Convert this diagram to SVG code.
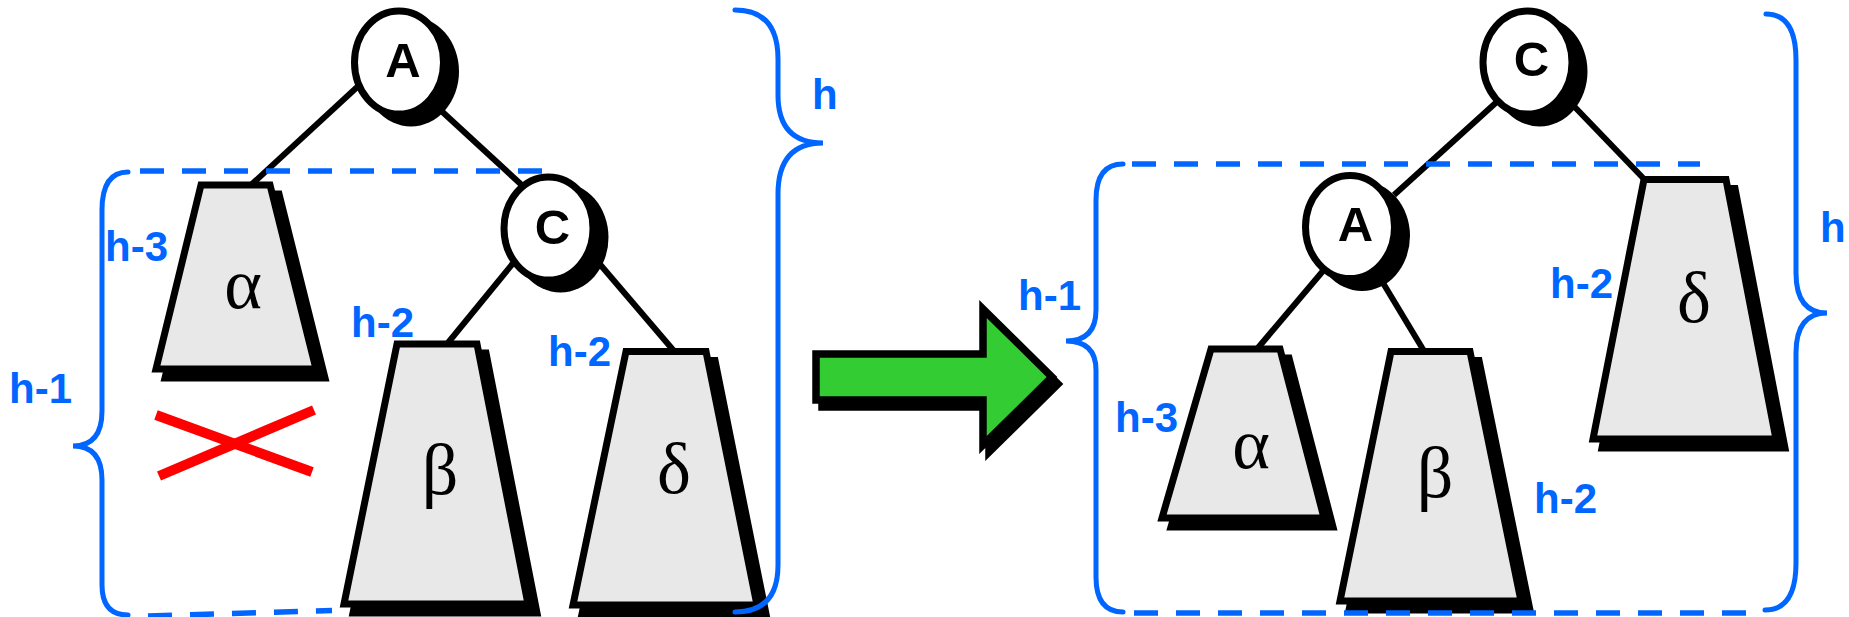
<svg xmlns="http://www.w3.org/2000/svg" width="1849" height="617" viewBox="0 0 1849 617">
<style>
.edge{stroke:#000;stroke-width:6;fill:none}
.circ{fill:#fff;stroke:#000;stroke-width:7}
.csh{fill:#000}
.tree{fill:#E8E8E8;stroke:#000;stroke-width:7;stroke-linejoin:miter}
.tsh{fill:#000;stroke:#000;stroke-width:7}
.nl{font-family:"Liberation Sans",Arial,sans-serif;font-weight:bold;font-size:49px;fill:#000;text-anchor:middle}
.gl{font-family:"Liberation Serif","Times New Roman",serif;font-size:72px;fill:#000;text-anchor:middle}
.hl{font-family:"Liberation Sans",Arial,sans-serif;font-weight:bold;font-size:42px;fill:#0066FF}
.brace{fill:none;stroke:#0066FF;stroke-width:5;stroke-linecap:round}
.dash{fill:none;stroke:#0066FF;stroke-width:5.5;stroke-dasharray:24 18}
.cross{stroke:#FF0000;stroke-width:10}
</style>
<rect width="1849" height="617" fill="#fff"/>
<g id="connectors">
<line class="edge" x1="361" y1="83.5" x2="251" y2="185"/>
<line class="edge" x1="436" y1="106" x2="525" y2="188"/>
<line class="edge" x1="514" y1="262" x2="447" y2="344"/>
<line class="edge" x1="598" y1="262" x2="674" y2="351"/>
<line class="edge" x1="1500" y1="99" x2="1394" y2="195"/>
<line class="edge" x1="1568" y1="100" x2="1645" y2="180"/>
<line class="edge" x1="1328" y1="265" x2="1257" y2="349"/>
<line class="edge" x1="1377" y1="273" x2="1424" y2="351"/>
</g>
<g id="left-alpha">
<polygon class="tsh" transform="translate(9,9)" points="201,185 270,185 316,369 156,369"/>
<polygon class="tree" points="201,185 270,185 316,369 156,369"/>
<text class="gl" x="243" y="308">α</text>
</g>
<g id="left-beta">
<polygon class="tsh" transform="translate(9,9)" points="397,344 477,344 528,604 344,604"/>
<polygon class="tree" points="397,344 477,344 528,604 344,604"/>
<text class="gl" x="440" y="494">β</text>
</g>
<g id="left-delta">
<polygon class="tsh" transform="translate(9,9)" points="626,351.5 706,351.5 757,605 573,605"/>
<polygon class="tree" points="626,351.5 706,351.5 757,605 573,605"/>
<text class="gl" x="674" y="493">δ</text>
</g>
<g id="left-A">
<ellipse class="csh" cx="411" cy="71.5" rx="48" ry="55"/>
<ellipse class="circ" cx="399" cy="62.5" rx="44.5" ry="51.5"/>
<text class="nl" x="403" y="77">A</text>
</g>
<g id="left-C">
<ellipse class="csh" cx="560.5" cy="237.5" rx="48" ry="55"/>
<ellipse class="circ" cx="548.5" cy="228.5" rx="44.5" ry="51.5"/>
<text class="nl" x="552.5" y="244">C</text>
</g>
<g id="right-alpha">
<polygon class="tsh" transform="translate(9,9)" points="1211,349 1280,349 1324,518 1162,518"/>
<polygon class="tree" points="1211,349 1280,349 1324,518 1162,518"/>
<text class="gl" x="1251" y="468">α</text>
</g>
<g id="right-beta">
<polygon class="tsh" transform="translate(9,9)" points="1391,351.5 1470,351.5 1521,601 1340,601"/>
<polygon class="tree" points="1391,351.5 1470,351.5 1521,601 1340,601"/>
<text class="gl" x="1435" y="497">β</text>
</g>
<g id="right-delta">
<polygon class="tsh" transform="translate(9,9)" points="1644,179.5 1726,179.5 1776,439 1593,439"/>
<polygon class="tree" points="1644,179.5 1726,179.5 1776,439 1593,439"/>
<text class="gl" x="1694" y="322">δ</text>
</g>
<g id="right-A">
<ellipse class="csh" cx="1362" cy="236" rx="48" ry="55"/>
<ellipse class="circ" cx="1350" cy="227" rx="44.5" ry="51.5"/>
<text class="nl" x="1355.5" y="241">A</text>
</g>
<g id="right-C">
<ellipse class="csh" cx="1539.5" cy="71.5" rx="48" ry="55"/>
<ellipse class="circ" cx="1527.5" cy="62.5" rx="44.5" ry="51.5"/>
<text class="nl" x="1531.5" y="76">C</text>
</g>
<g id="height-marks">
<path class="dash" d="M140 171 H545"/>
<path class="dash" d="M148 616 L332 610.5"/>
<path class="brace" d="M128 172 Q102 172 102 210 V411 Q102 446 73 446 Q102 446 102 480 V585 Q102 615 128 615"/>
<path class="brace" d="M735 10 Q778 10 778 59 V95 Q778 143 823 143 Q778 143 778 194 V565 Q778 612 735 612"/>
<path class="dash" d="M1132 164 H1700"/>
<path class="dash" d="M1134 613 H1746"/>
<path class="brace" d="M1123 164 Q1096 164 1096 200 V310 Q1096 341 1066 341 Q1096 341 1096 370 V577 Q1096 612 1123 612"/>
<path class="brace" d="M1766 14 Q1796 14 1796 60 V273 Q1796 313 1827 313 Q1796 313 1796 353 V563 Q1796 610 1765 610"/>
<line class="cross" x1="156" y1="415" x2="312" y2="472"/>
<line class="cross" x1="159" y1="476" x2="314" y2="410"/>
</g>
<g id="labels">
<text class="hl" x="812" y="109">h</text>
<text class="hl" x="105" y="261">h-3</text>
<text class="hl" x="9" y="403">h-1</text>
<text class="hl" x="351" y="337">h-2</text>
<text class="hl" x="548" y="366">h-2</text>
<text class="hl" x="1018" y="310">h-1</text>
<text class="hl" x="1115" y="432">h-3</text>
<text class="hl" x="1550" y="298">h-2</text>
<text class="hl" x="1534" y="513">h-2</text>
<text class="hl" x="1820" y="242">h</text>
</g>
<g id="arrow">
<polygon fill="#000" stroke="#000" stroke-width="7.5" transform="translate(6,7)" points="816,354 983,354 983,309 1052,377 983,445 983,400 816,400"/>
<polygon fill="#33CC33" stroke="#000" stroke-width="7.5" points="816,354 983,354 983,309 1052,377 983,445 983,400 816,400"/>
</g>
</svg>
